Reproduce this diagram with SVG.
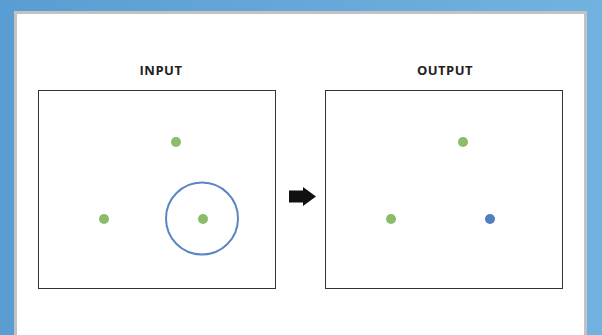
<svg xmlns="http://www.w3.org/2000/svg" width="602" height="335" viewBox="0 0 602 335">
<defs>
<linearGradient id="bg" x1="0" y1="0" x2="1" y2="0">
<stop offset="0" stop-color="#5a9dd2"/>
<stop offset="1" stop-color="#72b2e0"/>
</linearGradient>
<style>
.box{fill:#fff;stroke:#333;stroke-width:1}
.g{fill:#8cbb69}
.b{fill:#4f7fbf}
.t{font-family:"Open Sans","Liberation Sans",sans-serif;font-weight:bold;font-size:13px;fill:#222;text-anchor:middle;letter-spacing:0.5px}
</style>
</defs>
<rect width="602" height="335" fill="url(#bg)"/>
<rect x="15.5" y="12.5" width="570" height="340" fill="#fff" stroke="#c2c2c2" stroke-width="3"/>
<g id="input">
<text class="t" x="161" y="75">INPUT</text>
<rect class="box" x="38.5" y="90.5" width="237" height="198"/>
<circle class="g" cx="176" cy="142" r="5"/>
<circle class="g" cx="104" cy="219" r="5"/>
<circle class="g" cx="203" cy="219" r="5"/>
<circle cx="202" cy="218.5" r="36" fill="none" stroke="#5b86c3" stroke-width="2"/>
</g>
<g id="connectors">
<polygon points="289,190.5 303,190.5 303,187 316,196.5 303,206 303,202.5 289,202.5" fill="#111"/>
</g>
<g id="output">
<text class="t" x="445" y="75">OUTPUT</text>
<rect class="box" x="325.5" y="90.5" width="237" height="198"/>
<circle class="g" cx="463" cy="142" r="5"/>
<circle class="g" cx="391" cy="219" r="5"/>
<circle class="b" cx="490" cy="219" r="5"/>
</g>
</svg>
